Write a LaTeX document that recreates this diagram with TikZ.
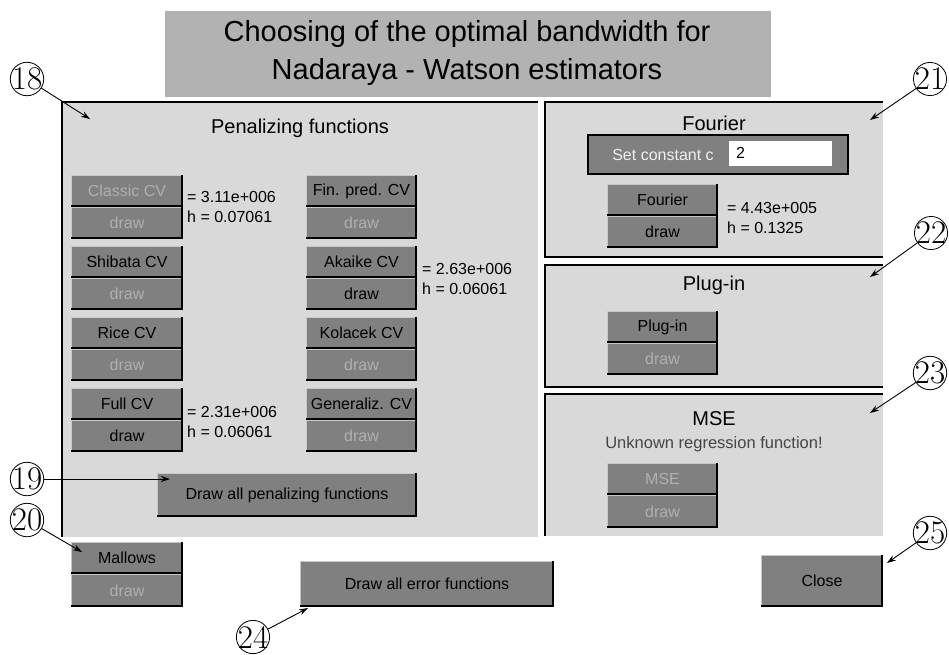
\documentclass[tikz,border=0pt]{standalone}
\usepackage{fontspec}
\newfontfamily\uifont{Liberation Sans}
\usetikzlibrary{arrows.meta}
\definecolor{panelgray}{HTML}{D9D9D9}
\definecolor{btngray}{HTML}{808080}
\definecolor{titlegray}{HTML}{B2B2B2}
\definecolor{distext}{HTML}{B0B0B0}
\definecolor{hlgray}{HTML}{C8C8C8}
\definecolor{msgtext}{HTML}{454545}
\tikzset{
 btnnode/.style={rectangle, fill=btngray, inner sep=0, font=\uifont\fontsize{16}{18}\selectfont},
 enabled/.style={text=black},
 disabled/.style={text=distext},
 btnhl/.style={draw=hlgray, line width=1.2pt},
 btnsh/.style={draw=black, line width=2pt},
 panel/.style={fill=panelgray},
 frameline/.style={draw=black, line width=1.8pt},
 ptitle/.style={font=\uifont\fontsize{20}{24}\selectfont, inner sep=0},
 valtext/.style={font=\uifont\fontsize{16}{20}\selectfont, align=left, anchor=west, inner sep=0},
 callout/.style={circle, draw=black, line width=0.8pt, inner sep=-1.5pt, font=\fontsize{33}{33}\selectfont},
 pointer/.style={draw=black, line width=0.9pt, -{Stealth[length=9pt,width=6pt]}},
}
\newcommand\uibtn[7]{%
 \node[btnnode,#6,minimum width={#4-#2},minimum height={#5-#3}] (#1) at ({(#2+#4)/2},{(#3+#5)/2}) {#7};
 \draw[btnhl] (#2+0.6,#5-2) -- (#2+0.6,#3+0.6) -- (#4-2,#3+0.6);
 \draw[btnsh] (#2,#5-1) -- (#4-1,#5-1) -- (#4-1,#3);
}
\begin{document}
\begin{tikzpicture}[x=1pt,y=-1pt]
\useasboundingbox[fill=white] (0,0) rectangle (949,654);
% title
\path[fill=titlegray] (165,11) rectangle (771,97);
\node[font=\uifont\fontsize{29}{38}\selectfont, align=center, inner sep=0] (title) at (467,53) {Choosing of the optimal bandwidth for\\Nadaraya - Watson estimators};
% left panel
\path[panel] (62,102) rectangle (538,537);
\draw[frameline] (62,537) -- (62,102) -- (538,102);
\node[ptitle] (pentitle) at (300,128) {Penalizing functions};
\uibtn{classic}{71}{175}{183}{207}{disabled}{Classic CV}
\uibtn{classicd}{71}{207}{183}{239}{disabled}{draw}
\uibtn{shibata}{71}{246}{183}{278}{enabled}{Shibata CV}
\uibtn{shibatad}{71}{278}{183}{310}{disabled}{draw}
\uibtn{rice}{71}{317}{183}{349}{enabled}{Rice CV}
\uibtn{riced}{71}{349}{183}{381}{disabled}{draw}
\uibtn{full}{71}{388}{183}{420}{enabled}{Full CV}
\uibtn{fulld}{71}{420}{183}{452}{enabled}{draw}
\uibtn{finpred}{306}{175}{417}{207}{enabled}{Fin. pred. CV}
\uibtn{finpredd}{306}{207}{417}{239}{disabled}{draw}
\uibtn{akaike}{306}{246}{417}{278}{enabled}{Akaike CV}
\uibtn{akaiked}{306}{278}{417}{310}{enabled}{draw}
\uibtn{kolacek}{306}{317}{417}{349}{enabled}{Kolacek CV}
\uibtn{kolacekd}{306}{349}{417}{381}{disabled}{draw}
\uibtn{general}{306}{388}{417}{420}{enabled}{Generaliz. CV}
\uibtn{generald}{306}{420}{417}{452}{disabled}{draw}
\node[valtext] (val1) at (187,207) {= 3.11e+006\\h = 0.07061};
\node[valtext] (val2) at (422,279) {= 2.63e+006\\h = 0.06061};
\node[valtext] (val3) at (187,422) {= 2.31e+006\\h = 0.06061};
\uibtn{drawpen}{157}{473}{417}{517}{enabled}{Draw all penalizing functions}
% right panels
\path[panel] (545,102) rectangle (883,257);
\draw[frameline] (883,102) -- (545,102) -- (545,257) -- (883,257);
\node[ptitle] (fourtitle) at (714,123) {Fourier};
\node[rectangle, fill=btngray, draw=black, line width=1.5pt, minimum width=260, minimum height=39, inner sep=0] (constbox) at (718,154.5) {};
\node[font=\uifont\fontsize{16}{18}\selectfont, text=white!94!black, inner sep=0] (constlbl) at (663,155) {Set constant c};
\node[rectangle, fill=white, minimum width=104, minimum height=26, inner sep=0] (constin) at (780,153) {};
\draw[draw=btngray, line width=1.2pt] (728.6,166) -- (728.6,140.6) -- (832,140.6);
\node[font=\uifont\fontsize{16}{18}\selectfont, anchor=west, inner sep=0] (constval) at (736,153) {2};
\uibtn{fourier}{607}{184}{718}{216}{enabled}{Fourier}
\uibtn{fourierd}{607}{216}{718}{248}{enabled}{draw}
\node[valtext] (val4) at (727,218) {= 4.43e+005\\h = 0.1325};
\path[panel] (545,265) rectangle (883,387);
\draw[frameline] (883,265) -- (545,265) -- (545,387) -- (883,387);
\node[ptitle] (plugtitle) at (714,285) {Plug-in};
\uibtn{plugin}{607}{311}{718}{343}{enabled}{Plug-in}
\uibtn{plugind}{607}{343}{718}{375}{disabled}{draw}
\path[panel] (545,394) rectangle (883,536);
\draw[frameline] (883,394) -- (545,394) -- (545,536);
\node[ptitle] (msetitle) at (714,419) {MSE};
\node[font=\uifont\fontsize{16.5}{20}\selectfont, text=msgtext, inner sep=0] (msemsg) at (714,444) {Unknown regression function!};
\uibtn{mse}{607}{463}{718}{495}{disabled}{MSE}
\uibtn{msed}{607}{495}{718}{528}{disabled}{draw}
% bottom buttons
\uibtn{mallows}{71}{542}{183}{574}{enabled}{Mallows}
\uibtn{mallowsd}{71}{574}{183}{607}{disabled}{draw}
\uibtn{drawerr}{300}{561}{554}{607}{enabled}{Draw all error functions}
\uibtn{close}{761}{555}{883}{607}{enabled}{Close}
% callouts
\node[callout] (n18) at (27,79) {18};
\node[callout] (n19) at (27,479) {19};
\node[callout] (n20) at (27,520) {20};
\node[callout] (n21) at (930,79) {21};
\node[callout] (n22) at (931,233) {22};
\node[callout] (n23) at (930,373) {23};
\node[callout] (n24) at (253,637) {24};
\node[callout] (n25) at (930,533) {25};
\coordinate (t18) at (90,119);
\coordinate (t19) at (170,479);
\coordinate (t20) at (82,552);
\coordinate (t21) at (870,120);
\coordinate (t22) at (870,277);
\coordinate (t23) at (870,413);
\coordinate (t24) at (308,608);
\coordinate (t25) at (887,563);
\draw[pointer] (n18) -- (t18);
\draw[pointer] (n19) -- (t19);
\draw[pointer] (n20) -- (t20);
\draw[pointer] (n21) -- (t21);
\draw[pointer] (n22) -- (t22);
\draw[pointer] (n23) -- (t23);
\draw[pointer] (n24) -- (t24);
\draw[pointer] (n25) -- (t25);
\end{tikzpicture}
\end{document}
